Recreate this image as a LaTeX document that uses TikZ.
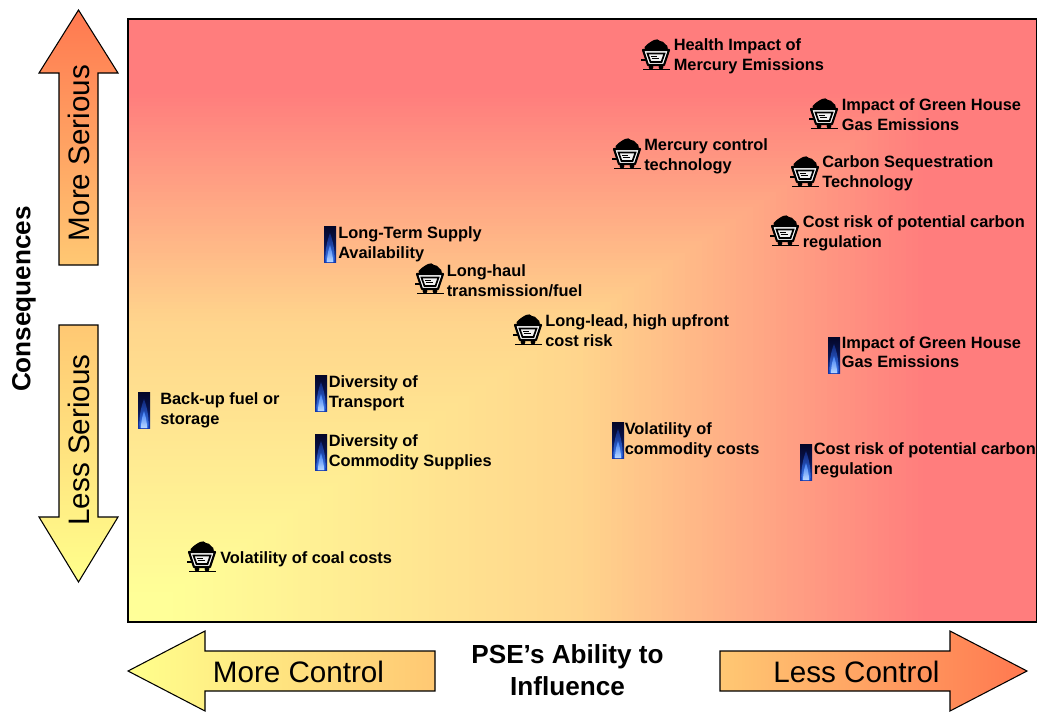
\documentclass[tikz,border=0pt]{standalone}
\usepackage{fontspec}
\setmainfont{Liberation Sans}
\definecolor{lowc}{RGB}{255,255,140}
\definecolor{midc}{RGB}{255,200,115}
\definecolor{highc}{RGB}{255,120,80}
\definecolor{flamedark}{RGB}{4,6,40}
\definecolor{flamemid}{RGB}{20,55,170}
\definecolor{flamelight}{RGB}{60,125,245}
\definecolor{flamepale}{RGB}{185,215,255}
\tikzset{
  lbl/.style={font=\bfseries\fontsize{12.28}{14.7}\selectfont,anchor=west,align=left,inner sep=0pt,text=black},
  bigt/.style={font=\fontsize{22.2}{26}\selectfont,inner sep=0pt,text=black},
  headt/.style={font=\bfseries\fontsize{19.6}{24}\selectfont,inner sep=0pt,text=black,align=center},
  arrowbox/.style={draw=black,line width=0.8pt,line join=miter},
  cart/.pic={
    \fill[black] (-11,-5) -- (-11.5,-8) .. controls (-10,-11) and (-8,-10) .. (-7,-12)
       .. controls (-5,-15) and (-3,-13) .. (-2,-15)
       .. controls (0,-17) and (3,-15) .. (4,-14)
       .. controls (6,-15) and (8,-12) .. (9,-11)
       .. controls (11,-11) and (12,-8) .. (12,-5) -- cycle;
    \filldraw[fill=white,draw=black,line width=1.6pt,line join=round] (-13,-5) -- (13,-5) -- (8,10) -- (-8,10) -- cycle;
    \draw[black,line width=1.3pt,fill=white!90!gray] (-8.5,-1.5) -- (8.5,-1.5) -- (5.5,7) -- (-5.5,7) -- cycle;
    \draw[black,line width=0.4pt] (-5,0.8) -- (1,0.8);
    \draw[black,line width=0.4pt] (-4.5,3.5) -- (3,3.5);
    \fill[black] (-5,12) circle (2.4) (5,12) circle (2.4);
    \draw[black,line width=0.7pt] (-13,14.2) -- (14,14.2);
    \draw[black,line width=0.8pt] (-15,5) -- (-10,5);
  },
  flame/.pic={
    \shade[top color=flamedark,bottom color=flamemid,middle color=flamedark!70!flamemid] (-6,-18) rectangle (6,18);
    \shade[top color=flamedark!40!flamemid,bottom color=flamelight] (0,-11) .. controls (3,-3) and (5.2,7) .. (4.4,18) -- (-4.4,18) .. controls (-5.2,7) and (-3,-3) .. cycle;
    \shade[top color=flamelight,bottom color=flamepale] (0,1) .. controls (1.6,6) and (3.2,12) .. (2.8,18) -- (-2.8,18) .. controls (-3.2,12) and (-1.6,6) .. cycle;
  }
}
\begin{document}
\begin{tikzpicture}[x=0.75pt,y=-0.75pt]
\useasboundingbox (0,0) rectangle (1037,711);
% plot background: corner gradient
\foreach \i in {160,159,...,1}{
  \pgfmathsetmacro{\t}{\i/160}
  \pgfmathsetmacro{\g}{\t<0.5 ? 1-0.165*max(\t-0.05,0)/0.45 : max(0.835-0.345*(\t-0.5)/0.38,0.49)}
  \pgfmathsetmacro{\b}{\t<0.5 ? 0.6-0.05*\t/0.5 : max(0.55-0.06*(\t-0.5)/0.38,0.49)}
  \definecolor{gradc}{rgb}{1,\g,\b}
  \fill[gradc] (128,622) rectangle ({128+909*\t},{622-603*\t});
}
\draw[black,line width=1.3pt] (128,19) rectangle (1037,622);
% direction arrows
\draw[arrowbox,bottom color=midc,top color=highc] (59,265) -- (59,73) -- (39,73) -- (78.5,10) -- (118,73) -- (98,73) -- (98,265) -- cycle;
\draw[arrowbox,top color=midc,bottom color=lowc] (59,325) -- (59,517) -- (39,517) -- (78.5,582) -- (118,517) -- (98,517) -- (98,325) -- cycle;
\draw[arrowbox,left color=lowc,right color=midc] (435,651) -- (205,651) -- (205,631) -- (128,671) -- (205,711) -- (205,691) -- (435,691) -- cycle;
\draw[arrowbox,left color=midc,right color=highc] (720,651) -- (950,651) -- (950,631) -- (1027,671) -- (950,711) -- (950,691) -- (720,691) -- cycle;
% axis texts
\node[bigt,rotate=90] (moreserious) at (78.5,153) {More Serious};
\node[bigt,rotate=90] (lessserious) at (78.5,440) {Less Serious};
\node[bigt] (morecontrol) at (298.5,672) {More Control};
\node[bigt] (lesscontrol) at (856.5,672) {Less Control};
\node[headt,rotate=90] (consequences) at (24,299) {Consequences};
\node[headt] (influence) at (567.5,670) {PSE’s Ability to\\Influence};
% coal items
\pic (c1) at (656,55) {cart};
\node[lbl] (t1) at (673.5,56.5) {Health Impact of\\Mercury Emissions};
\pic (c2) at (824,114) {cart};
\node[lbl] (t2) at (841.5,114.5) {Impact of Green House\\Gas Emissions};
\pic (c3) at (627,154) {cart};
\node[lbl] (t3) at (644,156) {Mercury control\\technology};
\pic (c4) at (805,172) {cart};
\node[lbl] (t4) at (822,173.5) {Carbon Sequestration\\Technology};
\pic (c5) at (785,231) {cart};
\node[lbl] (t5) at (802.5,233) {Cost risk of potential carbon\\regulation};
\pic (c6) at (430,279) {cart};
\node[lbl] (t6) at (446.5,280.5) {Long-haul\\transmission/fuel};
\pic (c7) at (528,330) {cart};
\node[lbl] (t7) at (545,330.5) {Long-lead, high upfront\\cost risk};
\pic (c8) at (202,557) {cart};
\node[lbl] (t8) at (220,559) {Volatility of coal costs};
% gas items
\pic (f1) at (330,244) {flame};
\node[lbl] (g1) at (338,244.5) {Long-Term Supply\\Availability};
\pic (f2) at (834,355) {flame};
\node[lbl] (g2) at (841.5,352) {Impact of Green House\\Gas Emissions};
\pic (f3) at (321,393) {flame};
\node[lbl] (g3) at (328.5,393) {Diversity of\\Transport};
\pic (f4) at (144,410) {flame};
\node[lbl] (g4) at (160,410) {Back-up fuel or\\storage};
\pic (f5) at (321,452) {flame};
\node[lbl] (g5) at (328.5,452) {Diversity of\\Commodity Supplies};
\pic (f6) at (618,440) {flame};
\node[lbl] (g6) at (624.5,440) {Volatility of\\commodity costs};
\pic (f7) at (806,462) {flame};
\node[lbl] (g7) at (813.5,460) {Cost risk of potential carbon\\regulation};
\end{tikzpicture}
\end{document}
